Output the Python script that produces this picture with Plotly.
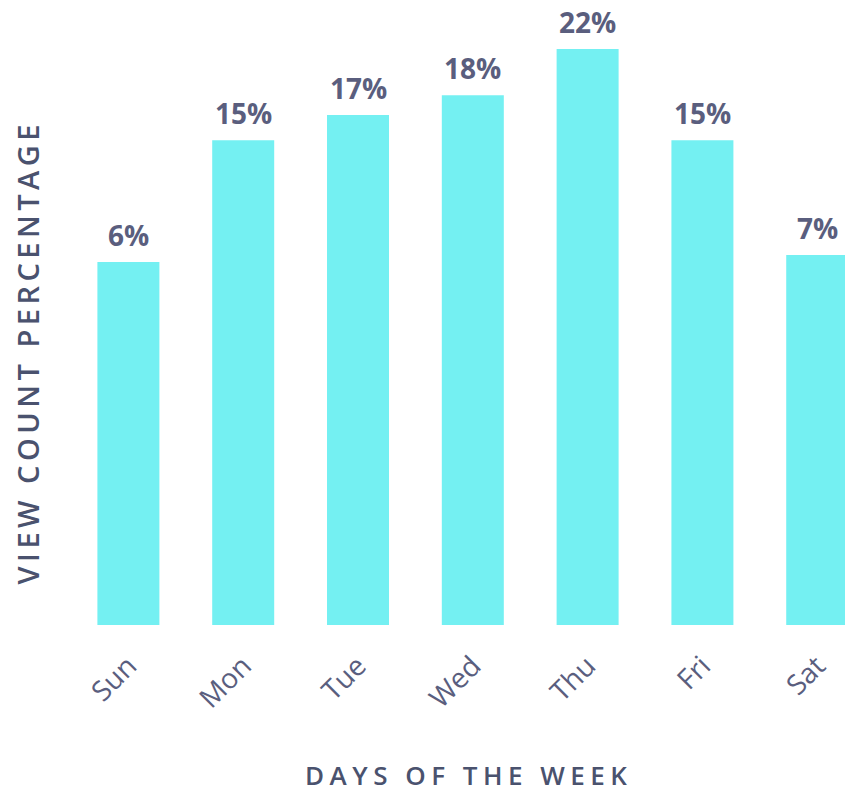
import plotly.graph_objects as go

# Data
days = ["Sun", "Mon", "Tue", "Wed", "Thu", "Fri", "Sat"]
view_pct = [6.4, 15.1, 16.9, 18.3, 21.6, 15.1, 6.9]
pct_labels = ["6%", "15%", "17%", "18%", "22%", "15%", "7%"]

# axis floor used by the original chart
Y_MIN = -19.5
Y_MAX = 25.1

BAR_COLOUR = "#74F0F2"
LABEL_COLOUR = "#5a5e7e"
TITLE_COLOUR = "#4a526e"
FONT = "Open Sans, sans-serif"

fig = go.Figure()
fig.add_trace(go.Bar(
    x=days,
    y=[v - Y_MIN for v in view_pct],
    base=Y_MIN,
    width=0.54,
    marker=dict(color=BAR_COLOUR, line=dict(width=0)),
    hovertext=pct_labels,
    hoverinfo="x+text",
))

# percentage labels above bars
for d, v, lab in zip(days, view_pct, pct_labels):
    fig.add_annotation(
        x=d, y=v, text=lab,
        showarrow=False, yanchor="bottom", yshift=6,
        font=dict(family=FONT, size=28, color=LABEL_COLOUR, weight=700),
    )

# axis titles
fig.add_annotation(
    xref="paper", yref="paper", x=0.513, y=-0.24,
    text='<span style="letter-spacing:5.5px">DAYS OF THE WEEK</span>',
    showarrow=False, xanchor="center", yanchor="middle",
    font=dict(family=FONT, size=26, color=TITLE_COLOUR, weight=600),
)
fig.add_annotation(
    xref="paper", yref="paper", x=-0.056, y=0.437,
    text='<span style="letter-spacing:4.5px">VIEW COUNT PERCENTAGE</span>',
    showarrow=False, textangle=-90, xanchor="center", yanchor="middle",
    font=dict(family=FONT, size=29, color=TITLE_COLOUR, weight=600),
)

fig.update_layout(
    width=845, height=793,
    margin=dict(l=71, r=0, t=0, b=168),
    plot_bgcolor="white", paper_bgcolor="white",
    showlegend=False,
    font=dict(family=FONT, color=LABEL_COLOUR),
)

fig.update_xaxes(
    range=[-0.5, 6.242],
    tickangle=-45,
    ticks="",
    ticklabelstandoff=18,
    showline=False, showgrid=False, zeroline=False,
    tickfont=dict(family=FONT, size=28, color=LABEL_COLOUR),
)
fig.update_yaxes(
    range=[Y_MIN, Y_MAX],
    showticklabels=False,
    ticks="",
    showline=False, showgrid=False, zeroline=False,
)

fig.write_html("out.html", config={"displayModeBar": False},
               post_script="document.body.style.margin='0';")
